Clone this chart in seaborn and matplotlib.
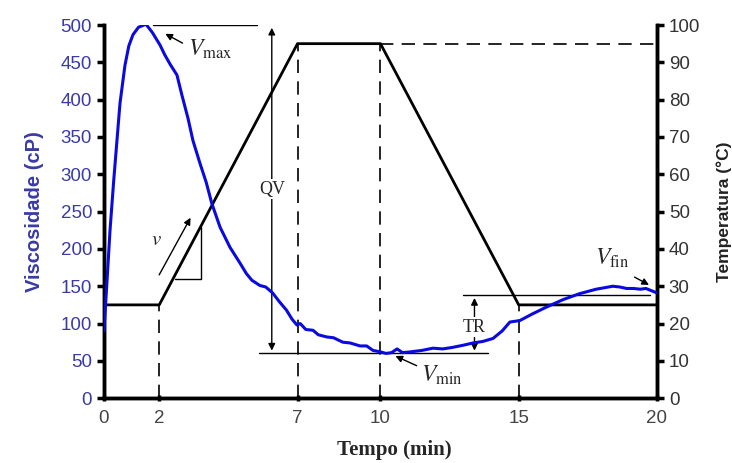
import seaborn as sns
import matplotlib.pyplot as plt
import pandas as pd

# viscosity curve
tempo_visc = [0, 0.1, 0.22, 0.35, 0.47, 0.58, 0.76, 0.9, 1.05, 1.25, 1.52, 1.75, 2.03, 2.2,
              2.4, 2.64, 2.82, 3.04, 3.22, 3.47, 3.7, 3.9, 4.2, 4.56, 4.92, 5.15, 5.35, 5.64,
              5.85, 6.1, 6.35, 6.6, 6.8, 6.98, 7.1, 7.3, 7.56, 7.75, 8.06, 8.3, 8.64, 8.9,
              9.26, 9.5, 9.73, 10.0, 10.2, 10.4, 10.6, 10.8, 11.07, 11.5, 11.9, 12.25, 12.6,
              13.0, 13.35, 13.7, 14.07, 14.4, 14.68, 15.04, 15.5, 16.0, 16.6, 17.2, 17.8,
              18.4, 18.65, 18.9, 19.15, 19.4, 19.6, 19.8, 20]
viscosidade = [90, 150, 225, 290, 345, 395, 446, 472, 487, 497, 501, 490, 473, 460,
               447, 433, 406, 375, 345, 315, 289, 261, 229, 202, 181, 167, 158, 151,
               149, 141, 129, 118, 106, 98, 100, 92, 91, 85, 82, 81, 75, 74,
               70, 70, 64, 62, 60, 61, 66, 61, 62, 64, 67, 66, 68,
               71, 74, 76, 80, 90, 102, 104, 113, 122, 132, 140, 146,
               150, 149, 147, 147, 146, 147, 144, 141]

# temperature program
tempo_temp = [0, 2, 7, 10, 15, 20]
temperatura = [25, 25, 95, 95, 25, 25]

x_ticks = [0, 2, 7, 10, 15, 20]

visc_df = pd.DataFrame({'tempo': tempo_visc, 'visc': viscosidade})
temp_df = pd.DataFrame({'tempo': tempo_temp, 'temp': temperatura})

sns.set_style('ticks')
plt.rcParams['font.family'] = ['Liberation Sans', 'DejaVu Sans']
plt.rcParams['mathtext.fontset'] = 'stix'

fig = plt.figure(figsize=(7.32, 4.63), dpi=100)
ax = fig.add_axes([0.142, 0.140, 0.7555, 0.806])
ax2 = ax.twinx()

blue = '#0a0ae0'
tick_blue = '#3a3aa8'

sns.lineplot(data=temp_df, x='tempo', y='temp', ax=ax2, color='black', lw=2)
sns.lineplot(data=visc_df, x='tempo', y='visc', ax=ax, color=blue, lw=2.2, zorder=5)
ax.set_zorder(ax2.get_zorder() + 1)
ax.patch.set_visible(False)

ax.set_xlim(0, 20)
ax.set_ylim(0, 500)
ax2.set_ylim(0, 100)
ax.set_xticks(x_ticks)
ax.set_yticks(range(0, 501, 50))
ax2.set_yticks(range(0, 101, 10))

for a in (ax, ax2):
    a.spines['top'].set_visible(False)
    for s in ('left', 'right', 'bottom'):
        a.spines[s].set_linewidth(2.5)
        a.spines[s].set_color('black')
ax.tick_params(axis='y', labelsize=13.5, labelcolor=tick_blue, width=2.5, length=5, color='black')
ax.tick_params(axis='x', labelsize=13.5, labelcolor='#444444', width=2.5, length=5, color='black',
               direction='inout', pad=6)
ax2.tick_params(axis='y', labelsize=13.5, labelcolor='#333333', width=2.5, length=5, color='black')

ax.set_xlabel('Tempo (min)', family='Liberation Serif', fontweight='bold', fontsize=15)
ax.xaxis.set_label_coords(0.525, -0.112)
ax.set_ylabel('Viscosidade (cP)', color=tick_blue, fontweight='bold', fontsize=14.5)
ax.yaxis.set_label_coords(-0.108, 0.5)
ax2.set_ylabel('Temperatura (°C)', color='#222222', fontweight='bold', fontsize=12.5)
ax2.yaxis.set_label_coords(1.108, 0.5)

# dashed guide lines (in viscosity units: temp * 5)
dash = dict(color='black', lw=1.2, ls=(0, (8, 5)))
ax.plot([2, 2], [0, 125], **dash)
ax.plot([7, 7], [0, 475], **dash)
ax.plot([10, 10], [0, 475], **dash)
ax.plot([15, 15], [0, 125], **dash)
ax.plot([10, 20], [475, 475], **dash)

thin = dict(color='black', lw=1)
# QV
ax.plot([1.78, 5.55], [500, 500], **thin)
ax.plot([5.6, 13.9], [60, 60], **thin)
ax.annotate('', xy=(6.07, 500), xytext=(6.07, 60),
            arrowprops=dict(arrowstyle='<|-|>', color='black', lw=1, mutation_scale=10))
ax.text(6.07, 280, 'QV', family='Liberation Serif', fontsize=13, ha='center', va='center',
        bbox=dict(fc='white', ec='none', pad=1))
# TR
ax.plot([13.0, 19.75], [138, 138], **thin)
ax.annotate('', xy=(13.4, 138), xytext=(13.4, 60),
            arrowprops=dict(arrowstyle='<|-|>', color='black', lw=1, mutation_scale=10))
ax.text(13.4, 95, 'TR', family='Liberation Serif', fontsize=13, ha='center', va='center',
        bbox=dict(fc='white', ec='none', pad=1))

# slope triangle
ax.plot([2.57, 3.5, 3.5], [160, 160, 230], **thin)
ax.annotate('', xy=(3.18, 245), xytext=(1.95, 162),
            arrowprops=dict(arrowstyle='-|>', color='black', lw=1, mutation_scale=10))
ax.text(1.9, 212, '$v$', fontsize=15, ha='center', va='center')

# labels with arrows
arr = dict(arrowstyle='-|>', color='black', lw=1, mutation_scale=10)
ax.annotate('', xy=(2.13, 490), xytext=(2.93, 474), arrowprops=arr)
ax.text(3.05, 468, r'$V_{\mathrm{max}}$', fontsize=17, ha='left', va='center')
ax.annotate('', xy=(10.45, 58), xytext=(11.4, 42), arrowprops=arr)
ax.text(11.45, 30, r'$V_{\mathrm{min}}$', fontsize=17, ha='left', va='center')
ax.annotate('', xy=(19.8, 150), xytext=(19.1, 164), arrowprops=arr)
ax.text(17.75, 188, r'$V_{\mathrm{fin}}$', fontsize=17, ha='left', va='center')

plt.savefig('out.png', dpi=100)
